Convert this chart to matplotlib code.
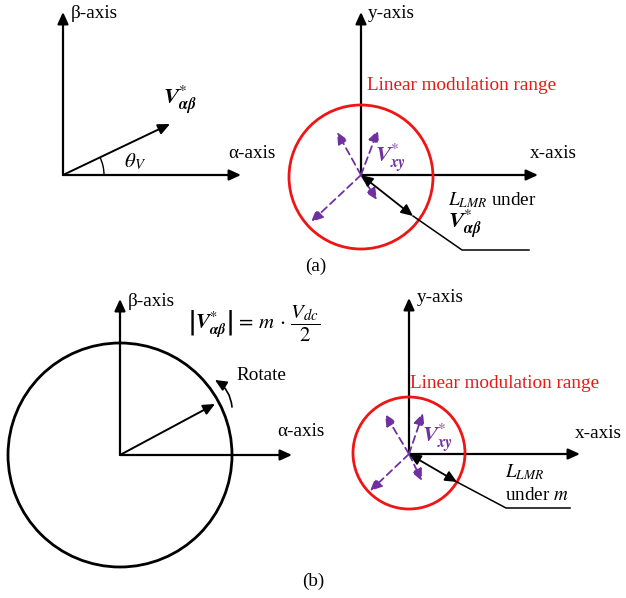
import matplotlib
matplotlib.use("Agg")
import matplotlib.pyplot as plt
from matplotlib.patches import FancyArrowPatch, Circle, Arc
import numpy as np

plt.rcParams['font.family'] = ['Liberation Serif', 'DejaVu Serif']
plt.rcParams['mathtext.fontset'] = 'stix'

W, H = 626, 598
PURPLE = '#7030A0'
RED = '#F01515'

# ---- geometry (pixel coordinates) ----
# panel (a) left
a_origin = (63, 175)
a_beta_tip = (63, 12)
a_alpha_tip = (241, 175)
a_vec_tip = (170, 124)
# panel (a) right
ar_origin = (361, 175)
ar_y_tip = (361, 12)
ar_x_tip = (538, 175)
ar_circle = (361, 177, 72)
ar_xy_tips = [(337, 132), (378, 130), (311, 222), (377, 200)]
ar_lmr_end = (413, 216)
ar_leader = [(413, 216), (462, 250), (529, 250)]
# panel (b) left
b_origin = (120, 455)
b_beta_tip = (120, 299)
b_alpha_tip = (292, 455)
b_circle = (120, 455, 112)
b_vec_tip = (215, 404)
b_rot = [(232, 407), (215, 380)]
# panel (b) right
br_origin = (409, 454)
br_y_tip = (409, 298)
br_x_tip = (580, 454)
br_circle = (409, 453, 56)
br_xy_tips = [(385, 414), (423, 413), (370, 491), (422, 481)]
br_lmr_end = (457, 482)
br_leader = [(457, 482), (506, 508), (570, 508)]

fig = plt.figure(figsize=(W / 100, H / 100), dpi=100)
ax = fig.add_axes([0, 0, 1, 1])
ax.set_xlim(0, W)
ax.set_ylim(H, 0)
ax.set_aspect('equal')
ax.axis('off')


def arrow(p0, p1, color='black', lw=1.6, ls='-', style='-|>', hl=7, hw=3.2, rad=0.0):
    a = FancyArrowPatch(p0, p1, arrowstyle=f'{style},head_length={hl},head_width={hw}',
                        mutation_scale=1, color=color, lw=lw, linestyle=ls,
                        shrinkA=0, shrinkB=0, connectionstyle=f'arc3,rad={rad}')
    ax.add_patch(a)


FS = 13.8
MS = 16

# ---------------- panel (a) left ----------------
arrow(a_origin, a_beta_tip)
arrow(a_origin, a_alpha_tip)
arrow(a_origin, a_vec_tip, lw=1.4)
ang = np.degrees(np.arctan2(a_vec_tip[1] - a_origin[1], a_vec_tip[0] - a_origin[0]))
ax.add_patch(Arc(a_origin, 82, 82, theta1=ang, theta2=0, color='black', lw=1.0))
ax.text(71, 14, 'β-axis', fontsize=FS, ha='left', va='center')
ax.text(228, 153, 'α-axis', fontsize=FS, ha='left', va='center')
ax.text(163, 100, r'$\mathbfit{V}^{*}_{\mathbfit{\alpha\beta}}$', fontsize=MS, ha='left', va='center')
ax.text(124, 162, r'$\theta_V$', fontsize=MS - 1, ha='left', va='center')

# ---------------- panel (a) right ----------------
arrow(ar_origin, ar_y_tip)
arrow(ar_origin, ar_x_tip)
ax.add_patch(Circle(ar_circle[:2], ar_circle[2], fill=False, ec=RED, lw=2.0))
for t in ar_xy_tips:
    arrow(ar_origin, t, color=PURPLE, lw=1.3, ls=(0, (4, 2.5)), hl=7, hw=3.2)
arrow(ar_origin, ar_lmr_end, style='<|-|>', lw=1.3, hl=7, hw=3.2)
ax.plot([p[0] for p in ar_leader], [p[1] for p in ar_leader], color='black', lw=1.1)
ax.text(368, 14, 'y-axis', fontsize=FS, ha='left', va='center')
ax.text(530, 154, 'x-axis', fontsize=FS, ha='left', va='center')
ax.text(367, 86, 'Linear modulation range', fontsize=FS, color=RED, ha='left', va='center')
ax.text(375, 158, r'$\mathbfit{V}^{*}_{\mathbfit{xy}}$', fontsize=MS, color=PURPLE, ha='left', va='center')
ax.text(448, 200, r'$L_{LMR}$ under', fontsize=FS, ha='left', va='center')
ax.text(448, 224, r'$\mathbfit{V}^{*}_{\mathbfit{\alpha\beta}}$', fontsize=MS, ha='left', va='center')
ax.text(316, 266, '(a)', fontsize=FS, ha='center', va='center')

# ---------------- panel (b) left ----------------
arrow(b_origin, b_beta_tip)
arrow(b_origin, b_alpha_tip)
ax.add_patch(Circle(b_circle[:2], b_circle[2], fill=False, ec='black', lw=2.0))
arrow(b_origin, b_vec_tip, lw=1.4)
arrow(b_rot[0], b_rot[1], lw=1.2, rad=0.25, hl=7, hw=3.2)
ax.text(128, 301, 'β-axis', fontsize=FS, ha='left', va='center')
ax.text(277, 432, 'α-axis', fontsize=FS, ha='left', va='center')
ax.text(236, 375, 'Rotate', fontsize=FS, ha='left', va='center')
ax.text(188, 324, r'$\left|\mathbfit{V}^{*}_{\mathbfit{\alpha\beta}}\right|\,=\,m\,\cdot\,\dfrac{V_{dc}}{2}$',
        fontsize=MS - 1, ha='left', va='center')

# ---------------- panel (b) right ----------------
arrow(br_origin, br_y_tip)
arrow(br_origin, br_x_tip)
ax.add_patch(Circle(br_circle[:2], br_circle[2], fill=False, ec=RED, lw=2.0))
for t in br_xy_tips:
    arrow(br_origin, t, color=PURPLE, lw=1.3, ls=(0, (4, 2.5)), hl=7, hw=3.2)
arrow(br_origin, br_lmr_end, style='<|-|>', lw=1.3, hl=7, hw=3.2)
ax.plot([p[0] for p in br_leader], [p[1] for p in br_leader], color='black', lw=1.1)
ax.text(417, 297, 'y-axis', fontsize=FS, ha='left', va='center')
ax.text(575, 434, 'x-axis', fontsize=FS, ha='left', va='center')
ax.text(410, 384, 'Linear modulation range', fontsize=FS, color=RED, ha='left', va='center')
ax.text(422, 438, r'$\mathbfit{V}^{*}_{\mathbfit{xy}}$', fontsize=MS, color=PURPLE, ha='left', va='center')
ax.text(505, 472, r'$L_{LMR}$', fontsize=FS, ha='left', va='center')
ax.text(505, 496, r'under $m$', fontsize=FS, ha='left', va='center')
ax.text(313, 581, '(b)', fontsize=FS, ha='center', va='center')

fig.savefig('out.png', dpi=100)
